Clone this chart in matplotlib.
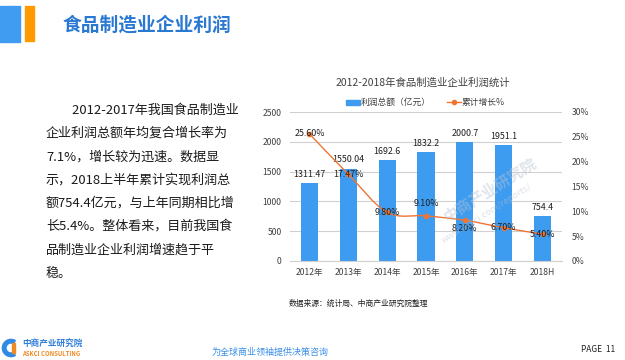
import matplotlib
matplotlib.use("Agg")
import matplotlib.pyplot as plt
from matplotlib.path import Path
from matplotlib.patches import PathPatch, Rectangle, Wedge

plt.rcParams["font.family"] = ["Noto Sans CJK SC", "DejaVu Sans"]
plt.rcParams["axes.unicode_minus"] = False

# 数据
years = ["2012年", "2013年", "2014年", "2015年", "2016年", "2017年", "2018H"]
profit = [1311.47, 1550.04, 1692.6, 1832.2, 2000.7, 1951.1, 754.4]
profit_labels = ["1311.47", "1550.04", "1692.6", "1832.2", "2000.7", "1951.1", "754.4"]
growth = [25.60, 17.47, 9.80, 9.10, 8.20, 6.70, 5.40]
growth_labels = ["25.60%", "17.47%", "9.80%", "9.10%", "8.20%", "6.70%", "5.40%"]
left_ticks = [0, 500, 1000, 1500, 2000, 2500]
right_ticks = [0, 5, 10, 15, 20, 25, 30]

paragraph = [
    "\u3000\u30002012-2017年我国食品制造业",
    "企业利润总额年均复合增长率为",
    "7.1%，增长较为迅速。数据显",
    "示，2018上半年累计实现利润总",
    "额754.4亿元，与上年同期相比增",
    "长5.4%。整体看来，目前我国食",
    "品制造业企业利润增速趋于平",
    "稳。",
]

BLUE = "#3D9BF0"
ORANGE = "#F07533"
TXT = "#404040"

fig = plt.figure(figsize=(6.25, 3.6), dpi=100)
W, H = 625, 360

def fx(px):
    return px / W

def fy(py):
    return 1 - py / H

# 页眉
fig.patches.append(Rectangle((0, fy(42)), fx(20), fy(6) - fy(42), transform=fig.transFigure,
                             color="#3F9CF0", zorder=1))
fig.patches.append(Rectangle((fx(25), fy(41)), fx(9), fy(6) - fy(41), transform=fig.transFigure,
                             color="#FF9A00", zorder=1))
fig.text(fx(63), fy(25), "食品制造业企业利润", fontsize=13.5, color="#2A78D2",
         va="center", ha="left", fontweight="bold")

# 左侧文字
for i, line in enumerate(paragraph):
    fig.text(fx(46), fy(110 + i * 23.3), line, fontsize=9.4, color="#1A1A1A",
             va="center", ha="left")

# 图表
ax = fig.add_axes([fx(290), fy(261), fx(562) - fx(290), fy(112) - fy(261)])
x = list(range(len(years)))
ax.bar(x, profit, width=0.44, color=BLUE, zorder=2)
ax.set_xlim(-0.5, len(years) - 0.5)
ax.set_ylim(0, 2500)
ax.set_yticks(left_ticks)
ax.set_xticks(x)
ax.set_xticklabels(years)
ax.grid(axis="y", color="#D0D0D0", linewidth=0.8, zorder=0)
for s in ["top", "left", "right"]:
    ax.spines[s].set_visible(False)
ax.spines["bottom"].set_color("#D0D0D0")
ax.tick_params(axis="both", length=0, labelsize=6.2, colors=TXT)
ax.tick_params(axis="y", pad=6)
ax.tick_params(axis="x", pad=5)

for xi, v, lab in zip(x, profit, profit_labels):
    ax.annotate(lab, (xi, v), xytext=(0, 3), textcoords="offset points",
                ha="center", va="bottom", fontsize=6.4, color="#202020", zorder=5)

ax2 = ax.twinx()
ax2.set_ylim(0, 30)
ax2.set_yticks(right_ticks)
ax2.set_yticklabels([f"{t}%" for t in right_ticks])
for s in ["top", "left", "right", "bottom"]:
    ax2.spines[s].set_visible(False)
ax2.tick_params(axis="y", length=0, labelsize=6.2, colors=TXT, pad=7)

# 平滑曲线（Catmull-Rom 贝塞尔）
pts = list(zip(x, growth))
verts = [pts[0]]
codes = [Path.MOVETO]
for i in range(len(pts) - 1):
    p0 = pts[i - 1] if i > 0 else pts[i]
    p1 = pts[i]
    p2 = pts[i + 1]
    p3 = pts[i + 2] if i + 2 < len(pts) else pts[i + 1]
    c1 = (p1[0] + (p2[0] - p0[0]) / 6, p1[1] + (p2[1] - p0[1]) / 6)
    c2 = (p2[0] - (p3[0] - p1[0]) / 6, p2[1] - (p3[1] - p1[1]) / 6)
    verts += [c1, c2, p2]
    codes += [Path.CURVE4] * 3
ax2.add_patch(PathPatch(Path(verts, codes), facecolor="none", edgecolor=ORANGE,
                        linewidth=1.0, zorder=3))
ax2.plot(x, growth, ls="none", marker="o", markersize=3, color=ORANGE, zorder=4)

offsets = [0, 0, 0, 9, -6, 0, 0]
for xi, v, lab, off in zip(x, growth, growth_labels, offsets):
    ax2.annotate(lab, (xi, v), xytext=(0, off), textcoords="offset points",
                 ha="center", va="center", fontsize=6.4, color="#202020", zorder=5)

# 水印
fig.text(fx(490), fy(190), "中商产业研究院", fontsize=11, color="#B8C4D2", alpha=0.45,
         rotation=32, ha="center", va="center", fontweight="bold", zorder=10)
fig.text(fx(487), fy(213), "www.askci.com/reports/", fontsize=6.5, color="#B8C4D2",
         alpha=0.5, rotation=32, ha="center", va="center", zorder=10)

# 图表标题和图例
fig.text(fx(423), fy(83), "2012-2018年食品制造业企业利润统计", fontsize=7.5, color=TXT,
         ha="center", va="center")
fig.patches.append(Rectangle((fx(346), fy(105)), fx(14), fy(100) - fy(105),
                             transform=fig.transFigure, color=BLUE))
fig.text(fx(361), fy(102), "利润总额（亿元）", fontsize=6.3, color=TXT, ha="left", va="center")
fig.lines.append(plt.Line2D([fx(447), fx(461)], [fy(102), fy(102)], transform=fig.transFigure,
                            color=ORANGE, linewidth=1.0))
fig.lines.append(plt.Line2D([fx(454)], [fy(102)], transform=fig.transFigure,
                            color=ORANGE, marker="o", markersize=3, linestyle="none"))
fig.text(fx(462), fy(102), "累计增长%", fontsize=6.3, color=TXT, ha="left", va="center")

# 数据来源
fig.text(fx(289), fy(304), "数据来源：统计局、中商产业研究院整理", fontsize=5.6, color="#202020",
         ha="left", va="center")

# 页脚 logo
lax = fig.add_axes([fx(1), fy(358), fx(20), fy(338) - fy(358)])
lax.set_xlim(-1.1, 1.1)
lax.set_ylim(-1.1, 1.1)
lax.set_aspect("equal")
lax.axis("off")
lax.add_patch(Wedge((0, 0), 0.95, 60, 300, width=0.4, color="#2F8BE6", clip_on=False))
lax.add_patch(Rectangle((0.1, -0.6), 0.35, 1.1, color="#F08A24", clip_on=False))
fig.text(fx(22), fy(343), "中商产业研究院", fontsize=6.2, color="#2F7FDB", fontweight="bold",
         ha="left", va="center")
fig.text(fx(22), fy(353), "ASKCI CONSULTING", fontsize=4.3, color="#F08A24", fontweight="bold",
         ha="left", va="center")
fig.text(fx(270), fy(352), "为全球商业领袖提供决策咨询", fontsize=6.5, color="#3A8FE8",
         style="italic", ha="center", va="center")
fig.text(fx(581), fy(350), "PAGE  11", fontsize=6, color="#202020", ha="left", va="center")

fig.savefig("out.png", dpi=100)
